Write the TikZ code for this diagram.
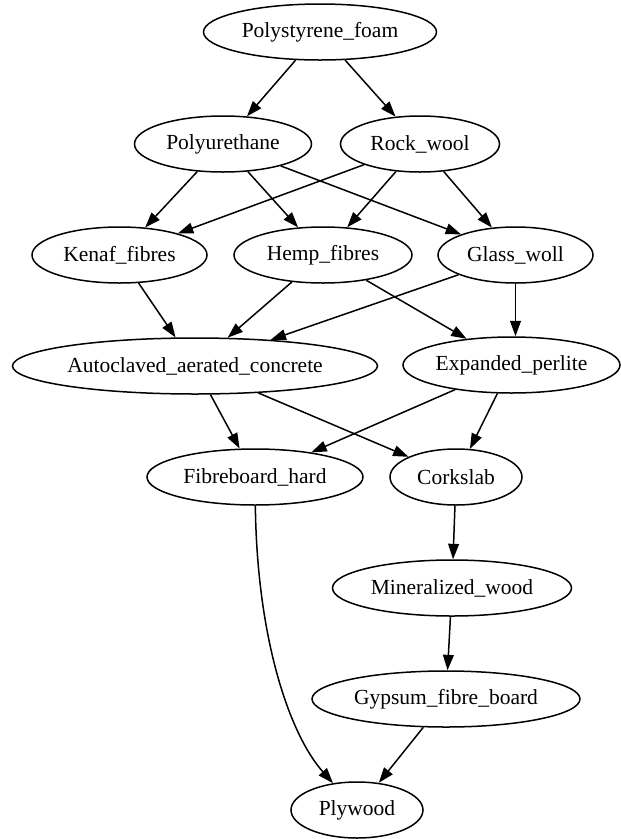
\documentclass[tikz,border=0pt]{standalone}
\usepackage{fontspec}
\setmainfont{Liberation Serif}
\usetikzlibrary{shapes.geometric,arrows.meta}

\begin{document}
\begin{tikzpicture}[x=1pt,y=-1pt,
  mat/.style={draw, ellipse, line width=1.5pt, inner sep=0pt,
    minimum height=56pt, font=\fontsize{21.5}{24}\selectfont},
  link/.style={line width=1.5pt, -{Triangle[length=15.4pt,width=10.8pt]}}]
\useasboundingbox (0,0) rectangle (621,839);

% materials, one row per rank
\node[mat, minimum width=233pt] (ps)  at (320,32)    {Polystyrene\_foam};
\node[mat, minimum width=177pt] (pu)  at (223,144)   {Polyurethane};
\node[mat, minimum width=159pt] (rw)  at (420,144)   {Rock\_wool};
\node[mat, minimum width=175pt] (kf)  at (119.5,255) {Kenaf\_fibres};
\node[mat, minimum width=178pt] (hf)  at (323,255)   {Hemp\_fibres};
\node[mat, minimum width=155pt] (gw)  at (515.5,255) {Glass\_woll};
\node[mat, minimum width=365pt] (aac) at (195,366)   {Autoclaved\_aerated\_concrete};
\node[mat, minimum width=217pt] (ep)  at (511.5,365) {Expanded\_perlite};
\node[mat, minimum width=216pt] (fh)  at (255,477)   {Fibreboard\_hard};
\node[mat, minimum width=132pt] (cs)  at (456,477)   {Corkslab};
\node[mat, minimum width=239pt] (mw)  at (452,588)   {Mineralized\_wood};
\node[mat, minimum width=268pt] (gfb) at (446,699)   {Gypsum\_fibre\_board};
\node[mat, minimum width=132pt] (pw)  at (357,810)   {Plywood};

% control points of the long curved edge
\coordinate (c1) at (257,640);
\coordinate (c2) at (290,735);

% edges
\draw[link] (ps) -- (pu);
\draw[link] (ps) -- (rw);
\draw[link] (pu) -- (kf);
\draw[link] (pu) -- (hf);
\draw[link] (pu) -- (gw);
\draw[link] (rw) -- (kf);
\draw[link] (rw) -- (hf);
\draw[link] (rw) -- (gw);
\draw[link] (kf) -- (aac);
\draw[link] (hf) -- (aac);
\draw[link] (hf) -- (ep);
\draw[link] (gw) -- (aac);
\draw[link] (gw.south) -- (gw.south |- ep.north);
\draw[link] (aac) -- (fh);
\draw[link] (aac) -- (cs);
\draw[link] (ep) -- (fh);
\draw[link] (ep) -- (cs);
\draw[link] (cs) -- (mw);
\draw[link] (mw) -- (gfb);
\draw[link] (gfb) -- (pw);
\draw[link] (fh) .. controls (c1) and (c2) .. (pw);
\end{tikzpicture}
\end{document}
